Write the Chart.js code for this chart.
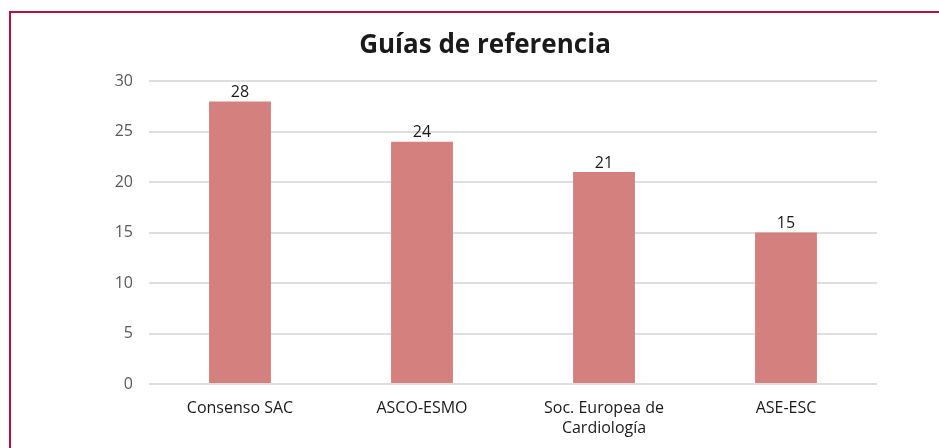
<!DOCTYPE html>
<html>
<head>
<meta charset="utf-8">
<script src="https://cdn.jsdelivr.net/npm/chart.js@4/dist/chart.umd.min.js"></script>
<style>
  html, body { margin: 0; padding: 0; background: #fff; overflow: hidden; }
  #frame {
    position: absolute; left: 9px; top: 11px;
    width: 1000px; height: 1000px;
    border-top: 2px solid #b3143f; border-left: 2px solid #b3143f;
  }
  #wrap { position: absolute; left: 0; top: 0; width: 939px; height: 448px; }
</style>
</head>
<body>
<div id="frame"></div>
<div id="wrap"><canvas id="guiasChart"></canvas></div>
<script>
// Data
const categories = ['Consenso SAC', 'ASCO-ESMO', ['Soc. Europea de', 'Cardiología'], 'ASE-ESC'];
const counts = [28, 24, 21, 15];
const yTicks = [0, 5, 10, 15, 20, 25, 30];

Chart.defaults.font.family = '"Open Sans", "Noto Sans", sans-serif';

// value labels above each bar
const barValueLabels = {
    id: 'barValueLabels',
    afterDatasetsDraw(chart) {
        const ctx = chart.ctx;
        const meta = chart.getDatasetMeta(0);
        ctx.save();
        ctx.font = '16px "Open Sans", sans-serif';
        ctx.fillStyle = '#1a1a1a';
        ctx.textAlign = 'center';
        ctx.textBaseline = 'bottom';
        meta.data.forEach((bar, i) => {
            ctx.fillText(String(counts[i]), bar.x, bar.y - 1);
        });
        ctx.restore();
    }
};

const ctxGuias = document.getElementById('guiasChart').getContext('2d');
new Chart(ctxGuias, {
    type: 'bar',
    data: {
        labels: categories,
        datasets: [{
            label: 'Guías',
            data: counts,
            backgroundColor: '#d3807f',
            borderWidth: 0,
            categoryPercentage: 1,
            barPercentage: 0.34
        }]
    },
    options: {
        responsive: true,
        maintainAspectRatio: false,
        animation: false,
        layout: { padding: { left: 93, right: 62, top: 0, bottom: 0 } },
        plugins: {
            legend: { display: false },
            tooltip: { enabled: false },
            title: {
                display: true,
                text: 'Guías de referencia',
                color: '#1a1a1a',
                font: { size: 26, weight: 'bold' },
                padding: { top: 30, bottom: 20 }
            }
        },
        scales: {
            y: {
                min: 0,
                max: 30,
                afterBuildTicks(scale) { scale.ticks = yTicks.map(v => ({ value: v })); },
                afterFit(scale) { scale.width = 56; },
                border: { display: false },
                grid: { color: '#dedede', lineWidth: 2, drawTicks: false },
                ticks: { color: '#595959', font: { size: 16 }, padding: 16 }
            },
            x: {
                afterFit(scale) { scale.height = 64; },
                border: { display: false },
                grid: { display: false, drawTicks: false },
                ticks: { color: '#1a1a1a', font: { size: 16, lineHeight: 1.3 }, padding: 13.6, maxRotation: 0 }
            }
        }
    },
    plugins: [barValueLabels]
});
</script>
</body>
</html>
